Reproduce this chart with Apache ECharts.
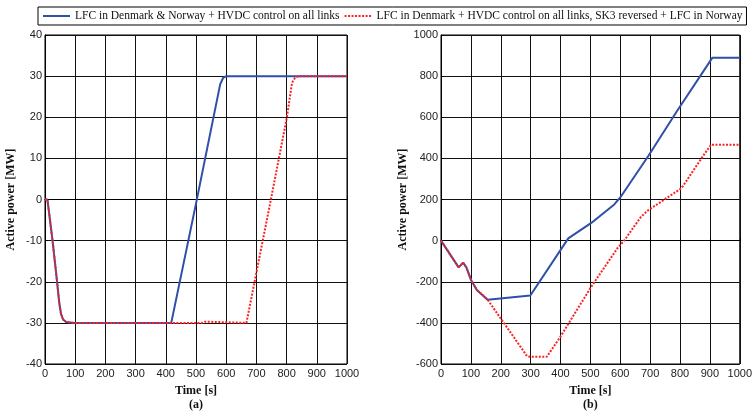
<!DOCTYPE html>
<html>
<head>
<meta charset="utf-8">
<script src="https://cdn.jsdelivr.net/npm/echarts@6/dist/echarts.min.js"></script>
<style>
  html, body { margin: 0; padding: 0; background: #fff; }
  #chart { width: 755px; height: 417px; }
</style>
</head>
<body>
<div id="chart"></div>
<script>
// series names
const nameBlue = 'LFC in Denmark & Norway + HVDC control on all links';
const nameRed = 'LFC in Denmark + HVDC control on all links, SK3 reversed + LFC in Norway';

// (a) left panel
const timeA_blue = [0, 8, 25, 40, 47, 53, 60, 70, 95, 418, 500, 580, 590, 600, 1000];
const powerA_blue = [0, 0, -10, -20, -25, -27.8, -29.2, -29.8, -30, -30, -1, 28, 29.6, 30, 30];
const timeA_red = [0, 8, 25, 40, 47, 53, 60, 70, 95, 520, 530, 667, 694, 748, 801, 818, 828, 840, 1000];
const powerA_red = [0, 0, -10, -20, -25, -27.8, -29.2, -29.8, -30, -30, -29.7, -30, -20, 0, 20, 28.4, 29.6, 30, 30];

// (b) right panel
const timeB_blue = [0, 59, 74, 85, 101, 120, 156, 299, 426, 503, 580, 600, 695, 789, 908, 1000];
const powerB_blue = [0, -130, -107, -130, -193, -240, -287, -267, 11, 86, 176, 210, 414, 628, 889, 889];
const timeB_red = [0, 59, 74, 85, 101, 120, 156, 288, 300, 354, 398, 503, 591, 613, 668, 690, 805, 882, 904, 1000];
const powerB_red = [0, -130, -107, -130, -193, -240, -287, -562, -565, -565, -471, -224, -36, 0, 113, 144, 255, 422, 466, 466];

const zip = (t, v) => t.map((x, i) => [x, v[i]]);

const blue = '#2f4fa8';
const red = '#ff2020';
const labelFont = { fontFamily: 'Liberation Sans', fontSize: 11, color: '#222' };
const nameFont = { fontFamily: 'Liberation Serif', fontSize: 12, fontWeight: 'bold', color: '#111' };
const plain = v => String(v);

function xAx(idx, tag) {
  return {
    type: 'value', gridIndex: idx, min: 0, max: 1000, interval: 100,
    name: 'Time [s]\n(' + tag + ')', nameLocation: 'middle', nameGap: 20,
    nameTextStyle: Object.assign({ lineHeight: 14 }, nameFont),
    axisLine: { lineStyle: { color: '#000' } },
    axisTick: { inside: true, length: 3, lineStyle: { color: '#000' } },
    axisLabel: Object.assign({ margin: 4, formatter: plain }, labelFont),
    splitLine: { lineStyle: { color: '#111', width: 1 } }
  };
}
function yAx(idx, min, max, interval, gap) {
  return {
    type: 'value', gridIndex: idx, min: min, max: max, interval: interval,
    name: 'Active power [MW]', nameLocation: 'middle', nameGap: gap,
    nameTextStyle: nameFont,
    axisLine: { lineStyle: { color: '#000' } },
    axisTick: { inside: true, length: 3, lineStyle: { color: '#000' } },
    axisLabel: Object.assign({ margin: 3, formatter: plain }, labelFont),
    splitLine: { lineStyle: { color: '#111', width: 1 } }
  };
}

const chart = echarts.init(document.getElementById('chart'));
chart.setOption({
  animation: false,
  backgroundColor: '#fff',
  legend: {
    left: 38, top: 7, width: 740, padding: [3, 4], itemGap: 4,
    itemWidth: 27, itemHeight: 10,
    borderColor: '#000', borderWidth: 1,
    itemStyle: { opacity: 0 },
    textStyle: { fontFamily: 'Liberation Serif', fontSize: 11.5, color: '#111' },
    data: [nameBlue, nameRed]
  },
  grid: [
    { left: 45, right: 408, top: 35, bottom: 44, show: true, borderColor: '#000', borderWidth: 1 },
    { left: 441, right: 11, top: 35, bottom: 44, show: true, borderColor: '#000', borderWidth: 1 }
  ],
  xAxis: [xAx(0, 'a'), xAx(1, 'b')],
  yAxis: [yAx(0, -40, 40, 10, 28), yAx(1, -600, 1000, 200, 32)],
  series: [
    { name: nameBlue, type: 'line', xAxisIndex: 0, yAxisIndex: 0, symbol: 'none',
      data: zip(timeA_blue, powerA_blue), lineStyle: { color: blue, width: 2 }, itemStyle: { color: blue }, z: 3 },
    { name: nameRed, type: 'line', xAxisIndex: 0, yAxisIndex: 0, symbol: 'none',
      data: zip(timeA_red, powerA_red), lineStyle: { color: red, width: 2, type: [2, 1.5] }, itemStyle: { color: red }, z: 4 },
    { name: nameBlue, type: 'line', xAxisIndex: 1, yAxisIndex: 1, symbol: 'none',
      data: zip(timeB_blue, powerB_blue), lineStyle: { color: blue, width: 2 }, itemStyle: { color: blue }, z: 3 },
    { name: nameRed, type: 'line', xAxisIndex: 1, yAxisIndex: 1, symbol: 'none',
      data: zip(timeB_red, powerB_red), lineStyle: { color: red, width: 2, type: [2, 1.5] }, itemStyle: { color: red }, z: 4 }
  ]
});
</script>
</body>
</html>
